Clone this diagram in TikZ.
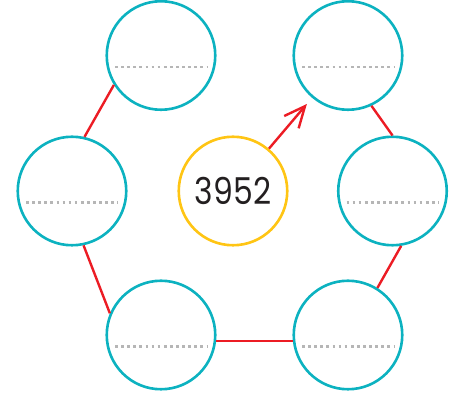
\documentclass[tikz,border=0pt]{standalone}
\usepackage{fontspec}
\newfontfamily\numfont[FakeStretch=0.85]{Poppins}
\usetikzlibrary{arrows.meta, positioning, calc}

\definecolor{ringteal}{RGB}{12,178,192}
\definecolor{ringyellow}{RGB}{255,197,20}
\definecolor{linkred}{RGB}{236,28,36}
\definecolor{dotgray}{RGB}{182,182,182}
\definecolor{numink}{RGB}{35,31,32}

\tikzset{
    ring/.style={circle, draw=ringteal, line width=2.6pt, minimum size=108.5pt, inner sep=0pt},
    link/.style={linkred, line width=2.4pt},
    dotrow/.style={dotgray, line width=2.7pt, dash pattern=on 2.7pt off 3.4pt}
}

\begin{document}
\begin{tikzpicture}[x=1pt, y=-1pt]
    \useasboundingbox (0,0) rectangle (451,393);

    \node[ring] (tl) at (161,55.5) {};
    \node[ring] (tr) at (348,55.5) {};
    \node[ring] (l)  at (72,191)   {};
    \node[ring] (r)  at (392.5,191) {};
    \node[ring] (bl) at (161,335)  {};
    \node[ring] (br) at (348,335)  {};
    \node[ring, draw=ringyellow, text=numink, font=\numfont\fontsize{37}{37}\selectfont] (mid) at (233,191) {3952};

    % blanks to write in
    \foreach \n in {tl,tr,l,r,bl,br}
        \draw[dotrow] ([xshift=-46pt,yshift=-11.5pt]\n.center) -- ([xshift=46pt,yshift=-11.5pt]\n.center);

    \draw[link] (tl.212) -- (l.77);
    \draw[link] (l.282) -- (bl.157);
    \draw[link] (bl.354) -- (br.186);
    \draw[link] (br.58) -- (r.279);
    \draw[link] (r.90) -- (tr.295);
    \draw[link, -{Straight Barb[length=21pt,width=19pt]}, shorten >=8pt] (mid) -- (tr);
\end{tikzpicture}
\end{document}
